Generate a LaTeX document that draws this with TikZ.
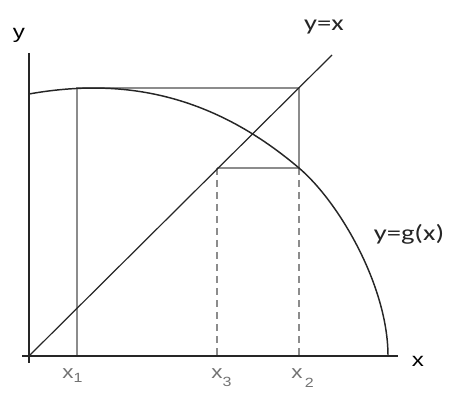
\documentclass[tikz,border=0pt]{standalone}
\usepackage{fontspec}
\setmainfont{Liberation Sans}
\newfontfamily\calib{Carlito}
\begin{document}
\begin{tikzpicture}[x=0.75pt,y=-0.75pt,
  axisline/.style={line width=1.4pt,black!85},
  curveline/.style={line width=1.1pt,black!85},
  diagline/.style={line width=0.9pt,black!85},
  webline/.style={line width=0.8pt,black!45},
  webdash/.style={line width=0.8pt,black!45,dash pattern=on 5.5pt off 3.5pt},
  biglabel/.style={inner sep=0pt,font=\calib\fontsize{16.5}{18}\selectfont,xscale=1.3,black!85},
  axlabel/.style={inner sep=0pt,font=\fontsize{14.5}{16}\selectfont,xscale=1.25,black},
  sublabel/.style={inner sep=0pt,anchor=base west,font=\fontsize{14}{16}\selectfont,xscale=1.2,black!55}]
\useasboundingbox (0,0) rectangle (474,402);
% coordinates
\coordinate (O) at (29,356);
\coordinate (yTop) at (29,53);
\coordinate (yBot) at (29,363);
\coordinate (xL) at (22,356);
\coordinate (xR) at (398,356);
\coordinate (diagTop) at (332,55);
\coordinate (A) at (77,88);
\coordinate (A0) at (77,356);
\coordinate (B) at (299,88);
\coordinate (C) at (299,168);
\coordinate (C0) at (299,356);
\coordinate (D) at (217,168);
\coordinate (D0) at (217,356);
\coordinate (gStart) at (29,94);
\coordinate (gEnd) at (388,356);
% cobweb
\draw[webline] (A0) -- (A) -- (B) -- (C) -- (D);
\draw[webdash] (D) -- (D0);
\draw[webdash] (C) -- (C0);
% axes
\draw[axisline] (yTop) -- (yBot);
\draw[axisline] (xL) -- (xR);
% y = x
\draw[diagline] (O) -- (diagTop);
% curve
\draw[curveline] (gStart) .. controls (119,78) and (209,91.5) .. (C)
  .. controls (339,202) and (388,286) .. (gEnd);
% labels
\node[axlabel] (ylab) at (19,35) {y};
\node[axlabel] (xlab) at (418,361) {x};
\node[biglabel] (eqdiag) at (324,27) {y=x};
\node[biglabel] (eqg) at (409,234) {y=g(x)};
\node[sublabel] (x1) at (62,378) {x\raisebox{-3pt}{\fontsize{10}{11}\selectfont 1}};
\node[sublabel] (x3) at (211,378) {x\raisebox{-6.5pt}{\fontsize{10}{11}\selectfont 3}};
\node[sublabel] (x2) at (291,378) {x\hspace{1.5pt}\raisebox{-7pt}{\fontsize{10}{11}\selectfont 2}};
\end{tikzpicture}
\end{document}
